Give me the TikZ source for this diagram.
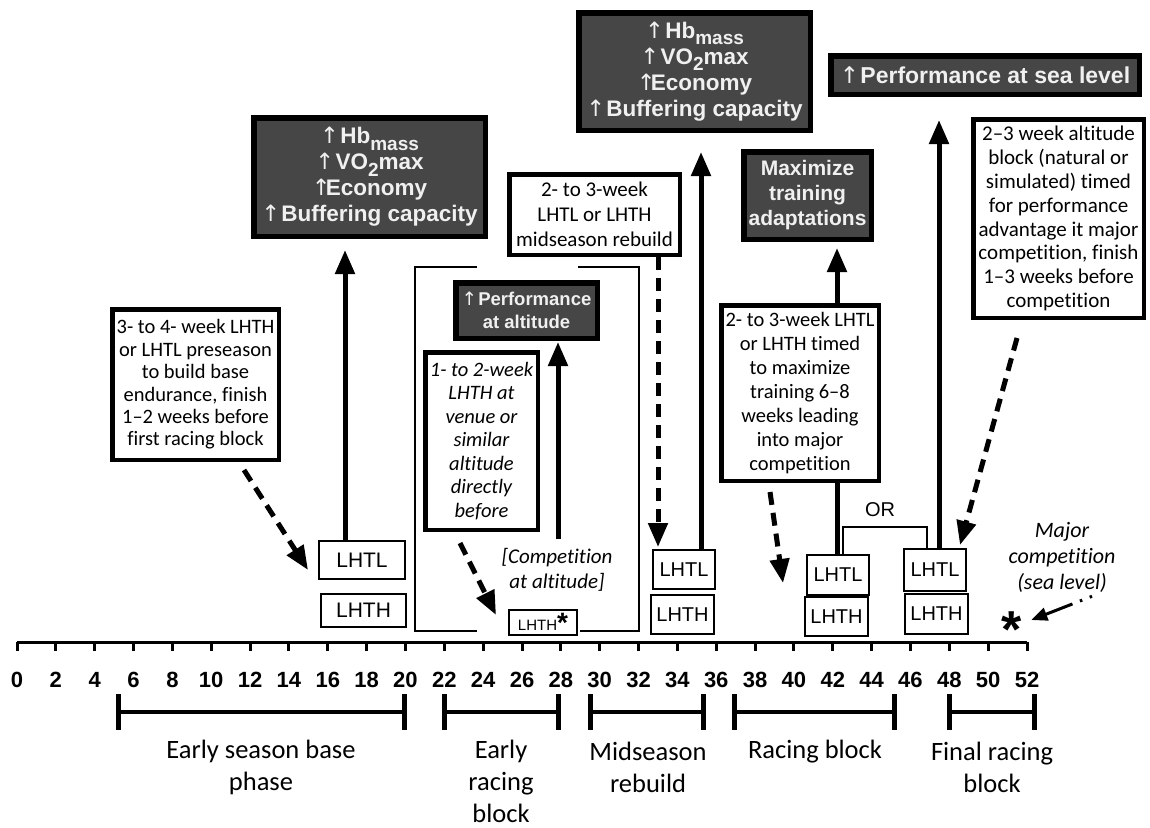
\documentclass[tikz,border=0pt]{standalone}
\usepackage{fontspec}
\setmainfont{Carlito}[Ligatures={TeX,NoCommon}]
\newfontfamily\arialfont{Liberation Sans}
\newfontfamily\arrowfont{DejaVu Sans}
\usetikzlibrary{arrows.meta,positioning}
\definecolor{boxgray}{HTML}{464646}
\definecolor{boxtext}{HTML}{F0F0F0}
\newcommand{\lowsub}[1]{\raisebox{-0.28em}{\fontsize{19}{19}\selectfont #1}}
\newcommand{\upa}{\makebox[0.62em][l]{\arrowfont\mdseries ↑}}

\begin{document}
\begin{tikzpicture}
[x=1pt, y=-1pt,
darkbox/.style={draw=black, line width=5.5pt, fill=boxgray, text=boxtext, align=center, inner sep=0pt,
  font=\arialfont\bfseries\fontsize{22.5}{26}\selectfont},
textbox/.style={draw=black, line width=4.5pt, fill=white, align=center, inner sep=0pt,
  font=\fontsize{21}{23.6}\selectfont},
lhbox/.style={draw=black, line width=1.6pt, fill=white, inner sep=0pt,
  font=\arialfont\fontsize{20}{20}\selectfont},
uparrow/.style={line width=5pt, -{Triangle[length=24pt,width=19pt]}},
stem/.style={line width=5pt},
dasharrow/.style={line width=5pt, dash pattern=on 13pt off 8pt, -{Triangle[length=24pt,width=19pt]}},
dotarrow/.style={line width=3pt, dash pattern=on 2.5pt off 8pt on 2.5pt off 8pt on 80pt, -{Triangle[length=16pt,width=13pt]}},
thinline/.style={line width=1.5pt},
bracket/.style={line width=4pt, {Bar[width=36pt,line width=5pt]}-{Bar[width=36pt,line width=5pt]}},
ticklabel/.style={font=\arialfont\bfseries\fontsize{22}{22}\selectfont, inner sep=0pt},
phase/.style={font=\fontsize{26.5}{32}\selectfont, align=center, inner sep=0pt},
note/.style={font=\itshape\fontsize{21}{25}\selectfont, align=center, inner sep=0pt}
]
  \fill[white] (0,0) rectangle (1150,827);
  \useasboundingbox (0,0) rectangle (1150,827);

  % outcomes
  \node[darkbox, minimum width=231.5pt, minimum height=118.5pt] (gainA) at (369.5,177)
    {\upa\ Hb\lowsub{mass}\\\upa\ VO\lowsub{2}max\\\upa Economy\\\upa\ Buffering capacity};
  \node[darkbox, minimum width=231.5pt, minimum height=117.5pt] (gainB) at (694.5,71.5)
    {\upa\ Hb\lowsub{mass}\\\upa\ VO\lowsub{2}max\\\upa Economy\\\upa\ Buffering capacity};
  \node[darkbox, minimum width=308.5pt, minimum height=38.5pt,
    font=\arialfont\bfseries\fontsize{23}{26}\selectfont] (seaPerf) at (985,75) {\upa\ Performance at sea level};
  \node[darkbox, minimum width=127.5pt, minimum height=87.5pt,
    font=\arialfont\bfseries\fontsize{21}{25}\selectfont] (maxTrain) at (807.5,195.5) {Maximize\\training\\adaptations};
  \node[darkbox, minimum width=141.5pt, minimum height=55.5pt,
    font=\arialfont\bfseries\fontsize{18.5}{23}\selectfont] (altPerf) at (526.5,310.5) {\upa\ Performance\\at altitude};

  % altitude blocks
  \node[textbox, minimum width=166.5pt, minimum height=150.5pt, font=\fontsize{20.5}{22.4}\selectfont] (preBox) at (195.5,384.5)
    {3- to 4- week LHTH\\or LHTL preseason\\to build base\\endurance, finish\\1–2 weeks before\\first racing block};
  \node[textbox, minimum width=170.5pt, minimum height=80.5pt, font=\fontsize{21}{25}\selectfont] (midBox) at (594.5,214.5)
    {2- to 3-week\\LHTL or LHTH\\midseason rebuild};
  \node[textbox, minimum width=112.5pt, minimum height=177.5pt, font=\itshape\fontsize{20.5}{23.5}\selectfont] (venueBox) at (481.5,441)
    {1- to 2-week\\LHTH at\\venue or\\similar\\altitude\\directly\\before};
  \node[textbox, minimum width=157.5pt, minimum height=175.5pt, font=\fontsize{20.5}{24}\selectfont] (raceBox) at (800,393)
    {2- to 3-week LHTL\\or LHTH timed\\to maximize\\training 6–8\\weeks leading\\into major\\competition};
  \node[textbox, minimum width=170.5pt, minimum height=198.5pt, font=\fontsize{21}{23.8}\selectfont] (finalBox) at (1058.5,218.5)
    {2–3 week altitude\\block (natural or\\simulated) timed\\for performance\\advantage it major\\competition, finish\\1–3 weeks before\\competition};

  % LHTL / LHTH
  \node[lhbox, minimum width=86.4pt, minimum height=38.4pt, font=\arialfont\fontsize{21}{21}\selectfont] (lhtlA) at (362,560) {LHTL};
  \node[lhbox, minimum width=85.4pt, minimum height=33.4pt, font=\arialfont\fontsize{21}{21}\selectfont,
    below=13pt of lhtlA, xshift=1.5pt] (lhthA) {LHTH};
  \node[lhbox, minimum width=62.4pt, minimum height=39.4pt] (lhtlB) at (684,569.5) {LHTL};
  \node[lhbox, minimum width=63.4pt, minimum height=39.4pt, below=4pt of lhtlB, xshift=-1.5pt] (lhthB) {LHTH};
  \node[lhbox, minimum width=62.4pt, minimum height=40.4pt] (lhtlC) at (838,575) {LHTL};
  \node[lhbox, minimum width=63.4pt, minimum height=39.4pt, below=0pt of lhtlC, xshift=-1.5pt] (lhthC) {LHTH};
  \node[lhbox, minimum width=62.4pt, minimum height=42.4pt] (lhtlD) at (935,570) {LHTL};
  \node[lhbox, minimum width=63.4pt, minimum height=40.4pt, below=1pt of lhtlD, xshift=1.5pt] (lhthD) {LHTH};
  \node[lhbox, minimum width=68.4pt, minimum height=25.4pt] (lhthStar) at (543,622.5)
    {{\fontsize{15}{15}\selectfont LHTH}\raisebox{-2pt}{\bfseries\fontsize{28}{15}\selectfont *}};

  \node[note] (compText) at (557,570) {[Competition\\at altitude]};
  \node[note, font=\itshape\fontsize{22}{26}\selectfont] (majorText) at (1062,557) {Major\\competition\\(sea level)};
  \node[font=\arialfont\bfseries\fontsize{52}{52}\selectfont, inner sep=0pt] (majorStar) at (1012,630) {*};
  \node[font=\arialfont\fontsize{20}{20}\selectfont, inner sep=0pt] (orText) at (880,510) {OR};

  % frame round the early racing block
  \draw[thinline] (477,267) -| (415,631) -- (477,631);
  \draw[thinline] (578,267) -| (639,631) -- (580,631);

  % effects
  \draw[uparrow, shorten >=11pt] ([xshift=-17pt]lhtlA.north) -- ([xshift=-17pt]lhtlA.north |- gainA.south);
  \draw[uparrow, shorten >=19pt] ([xshift=17pt]lhtlB.north) -- ([xshift=17pt]lhtlB.north |- gainB.south);
  \draw[uparrow, shorten >=6pt] ([xshift=37pt]raceBox.north) -- ([xshift=37pt]raceBox.north |- maxTrain.south);
  \draw[stem] ([xshift=-1pt]lhtlC.north) -- ([xshift=-1pt]lhtlC.north |- raceBox.south);
  \draw[uparrow, shorten >=23pt] ([xshift=4pt]lhtlD.north) -- ([xshift=4pt]lhtlD.north |- seaPerf.south);
  \draw[uparrow, shorten >=1pt] ([xshift=1pt, yshift=9pt]compText.north) -- ([xshift=1pt]compText.north |- altPerf.south);

  % timing
  \draw[dasharrow] ([xshift=48.5pt, yshift=-8pt]preBox.south) -- ([xshift=-10pt, yshift=-10pt]lhtlA.west);
  \draw[dasharrow] ([xshift=-21.5pt, yshift=-11pt]venueBox.south) -- ([xshift=-12pt, yshift=7.5pt]lhthStar.west);
  \draw[dasharrow, shorten >=2pt] ([xshift=63.5pt]midBox.south) -- ([xshift=63.5pt]midBox.south |- lhtlB.north);
  \draw[dasharrow] ([xshift=-30pt, yshift=-9pt]raceBox.south) -- ([xshift=-23pt, yshift=-8pt]lhtlC.west);
  \draw[dasharrow] ([xshift=-41.5pt, yshift=-18pt]finalBox.south) -- ([xshift=25pt, yshift=3pt]lhtlD.north);
  \draw[dotarrow] ([xshift=30pt, yshift=-4pt]majorText.south) -- ([xshift=9pt, yshift=10pt]majorStar.east);

  % OR
  \draw[thinline] ([xshift=5pt]lhtlC.north) -- ++(0,-27) -| ([xshift=-8pt]lhtlD.north);

  % weeks
  \draw[line width=3pt] (17,642) -- (1027,642);
  \foreach \w in {0,2,...,52} {
    \draw[line width=3pt] ({17+19.423*\w},642) -- ++(0,9);
    \node[ticklabel] at ({17+19.423*\w},680) {\w};
  }

  % phases
  \foreach \a/\b in {116/407, 442/561, 588/706, 732/897, 947/1037}
    \draw[bracket] (\a,712) -- (\b,712);
  \node[phase] (phBase) at (261,767) {Early season base\\phase};
  \node[phase] (phEarly) at (501,781) {Early\\racing\\block};
  \node[phase] (phMid) at (648,767) {Midseason\\rebuild};
  \node[phase] (phRace) at (815,752) {Racing block};
  \node[phase] (phFinal) at (992,767) {Final racing\\block};
\end{tikzpicture}
\end{document}
